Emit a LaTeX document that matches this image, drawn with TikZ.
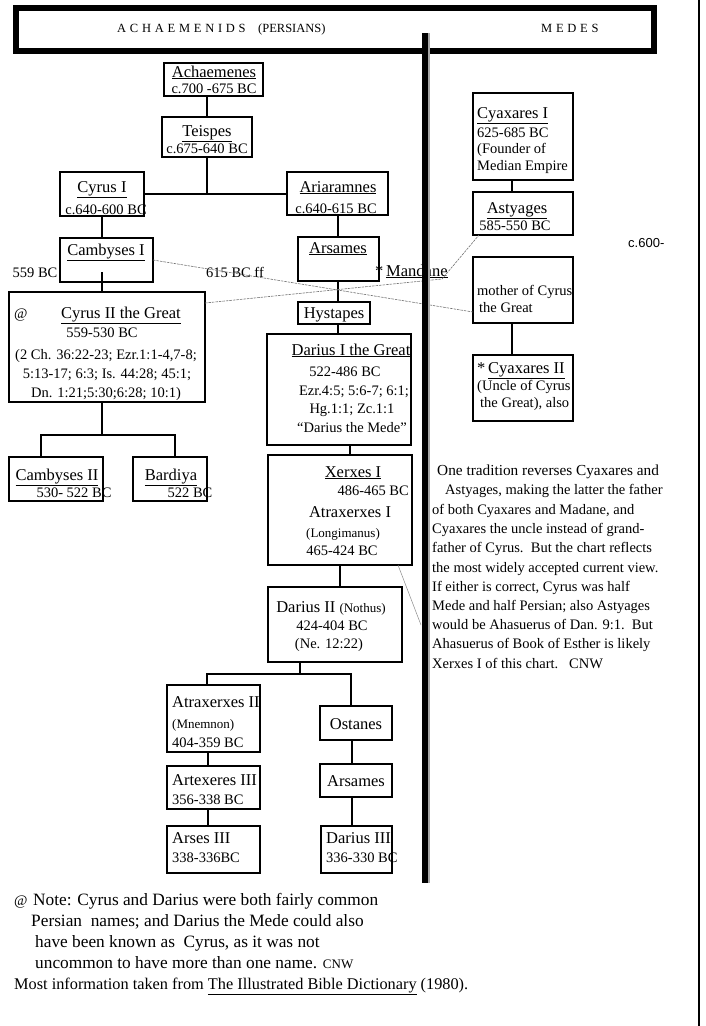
\documentclass[tikz,border=0pt]{standalone}
\usepackage{fontspec}
\setmainfont{Liberation Serif}
\newfontfamily\hdrfont[LetterSpace=30]{Liberation Serif}
\newfontfamily\sansfnt{Liberation Sans}
\newcommand{\szN}{\fontsize{16.5}{19}\selectfont}
\newcommand{\szD}{\fontsize{14.5}{17}\selectfont}
\newcommand{\szS}{\fontsize{13}{15}\selectfont}
\newcommand{\szB}{\fontsize{16.3}{19}\selectfont}
\newcommand{\szBB}{\fontsize{17.3}{20}\selectfont}
\newcommand{\BX}[5]{\node[bx, minimum width={#4-#2}, minimum height={#5-#3}] (#1) at ({(#2+#4)/2},{(#3+#5)/2}) {};}
\tikzset{
  bx/.style={draw, line width=1.3pt, inner sep=0pt, outer sep=0pt},
  tN/.style={inner sep=0pt, anchor=base, font=\szN},
  tD/.style={inner sep=0pt, anchor=base, font=\szD},
  tS/.style={inner sep=0pt, anchor=base, font=\szS},
  lN/.style={inner sep=0pt, anchor=base west, font=\szN},
  lD/.style={inner sep=0pt, anchor=base west, font=\szD},
  lS/.style={inner sep=0pt, anchor=base west, font=\szS},
  lB/.style={inner sep=0pt, anchor=base west, font=\szB},
  lBB/.style={inner sep=0pt, anchor=base west, font=\szBB},
  link/.style={line width=1.2pt},
  dsh/.style={black!55, line width=0.6pt, dash pattern=on 2.5pt off 1pt},
}
\begin{document}
\begin{tikzpicture}[x=1pt,y=-1pt]
\useasboundingbox (0,0) rectangle (706,1026);
\fill[white] (0,0) rectangle (706,1026);

% header
\node[draw, line width=6pt, minimum width=638, minimum height=43, inner sep=0pt] (hdr) at (335,29.5) {};
\node[anchor=base west, inner sep=0pt, font={\hdrfont\fontsize{12.5}{14}\selectfont}] (hA) at (117,32) {ACHAEMENIDS};
\node[anchor=base west, inner sep=0pt, font={\fontsize{12.5}{14}\selectfont}] (hP) at (258,32) {(PERSIANS)};
\node[anchor=base west, inner sep=0pt, font={\hdrfont\fontsize{12.5}{14}\selectfont}] (hM) at (541,32) {MEDES};

% right page border
\coordinate (pgT) at (699,0);
\coordinate (pgB) at (699,1026);
\draw[line width=2pt] (pgT) -- (pgB);

% ---------- boxes ----------
\BX{ach}{164}{63}{263}{96}
\BX{teis}{162}{117}{252}{157}
\BX{cyr1}{60}{172}{144}{216}
\BX{aria}{287}{172}{388}{215}
\BX{camb1}{60}{238}{153}{282}
\BX{ars1}{298}{237}{379}{281}
\BX{hyst}{298}{302}{370}{324}
\BX{dar1}{267}{334}{411}{445}
\BX{cyr2}{9}{292}{205}{402}
\BX{camb2}{9}{457}{103}{501}
\BX{bard}{133}{457}{207}{501}
\BX{xerx}{268}{455}{412}{565}
\BX{dar2}{268}{587}{402}{662}
\BX{atx2}{167}{685}{260}{752}
\BX{atx3}{167}{766}{260}{809}
\BX{arses}{167}{826}{260}{873}
\BX{ost}{320}{706}{392}{740}
\BX{ars2}{320}{764}{392}{797}
\BX{dar3}{321}{826}{392}{873}
\BX{cyax1}{473}{93}{573}{180}
\BX{astyg}{473}{192}{573}{235}
\BX{mother}{473}{257}{573}{323}
\BX{cyax2}{473}{355}{573}{421}

% ---------- texts ----------
\node[tN] (ach1) at (214,77) {\underline{Achaemenes}};
\node[tD] (ach2) at (214,93) {c.700 -675 BC};
\node[tN] (teis1) at (207,136) {\underline{Teispes}};
\node[tD] (teis2) at (207,153) {c.675-640 BC};
\node[tN] (cyr1a) at (102,192) {\underline{Cyrus I}};
\node[tD] (cyr1b) at (106,214) {c.640-600 BC};
\node[tN] (aria1) at (338,192) {\underline{Ariaramnes}};
\node[tD] (aria2) at (336,213) {c.640-615 BC};
\node[tN] (camb1a) at (106,255) {\underline{Cambyses I}};
\node[tN] (ars1a) at (338,253) {\underline{Arsames}};
\node[tD] (y559) at (35,277) {559 BC};
\node[tD] (y615) at (235,277) {615 BC ff};
\node[lN] (mand) at (375,276) {*\,\underline{Mandane}};
\coordinate (mandE) at (442,279);
\node[tN] (hyst1) at (334,318) {\underline{Hystapes}};

\node[lD] (at1) at (14,318) {@};
\node[tN] (cyr2a) at (121,318) {\underline{Cyrus II the Great}};
\node[tD] (cyr2b) at (102,337) {559-530 BC};
\node[tD] (cyr2c) at (106,359) {(2 Ch. 36:22-23; Ezr.1:1-4,7-8;};
\node[tD] (cyr2d) at (107,378) {5:13-17; 6:3; Is. 44:28; 45:1;};
\node[tD] (cyr2e) at (106,397) {Dn. 1:21;5:30;6:28; 10:1)};

\node[tN] (dar1a) at (351,355) {\underline{Darius I the Great}};
\node[tD] (dar1b) at (345,376) {522-486 BC};
\node[tD] (dar1c) at (354,395) {Ezr.4:5; 5:6-7; 6:1;};
\node[tD] (dar1d) at (352,413) {Hg.1:1; Zc.1:1};
\node[tD] (dar1e) at (352,432) {``Darius the Mede''};

\node[tN] (camb2a) at (57,480) {\underline{Cambyses II}};
\node[tD] (camb2b) at (74,497) {530- 522 BC};
\node[tN] (bard1) at (171,480) {\underline{Bardiya}};
\node[tD] (bard2) at (190,497) {522 BC};

\node[tN] (xer1) at (353,477) {\underline{Xerxes I}};
\node[inner sep=0pt, anchor=base east, font=\szD] (xer2) at (409,495) {486-465 BC};
\node[tN] (xer3) at (350,517) {Atraxerxes I};
\node[tS] (xer4) at (343,537) {(Longimanus)};
\node[tD] (xer5) at (342,555) {465-424 BC};

\node[tN] (dar2a) at (331,612) {Darius II {\szS(Nothus)}};
\node[tD] (dar2b) at (332,630) {424-404 BC};
\node[tD] (dar2c) at (329,648) {(Ne. 12:22)};

\node[lN] (atx2a) at (172,707) {Atraxerxes II};
\node[lS] (atx2b) at (172,728) {(Mnemnon)};
\node[lD] (atx2c) at (172,747) {404-359 BC};
\node[lN] (atx3a) at (172,785) {Artexeres III};
\node[lD] (atx3b) at (172,804) {356-338 BC};
\node[lN] (arsesa) at (172,843) {Arses III};
\node[lD] (arsesb) at (172,862) {338-336BC};
\node[tN] (ost1) at (356,729) {Ostanes};
\node[tN] (ars2a) at (356,786) {Arsames};
\node[lN] (dar3a) at (326,843) {Darius III};
\node[lD] (dar3b) at (326,862) {336-330 BC};

\node[lN] (cx1a) at (477,118) {\underline{Cyaxares I}};
\node[lD] (cx1b) at (477,137) {625-685 BC};
\node[lD] (cx1c) at (477,153) {(Founder of};
\node[lD] (cx1d) at (477,170) {Median Empire};
\node[tN] (asty1) at (517,213) {\underline{Astyages}};
\node[tD] (asty2) at (515,230) {585-550 BC};
\node[lD] (moth1) at (477,295) {mother of Cyrus};
\node[lD] (moth2) at (479,312) {the Great};
\node[lN] (cx2a) at (477,373) {*\,\underline{Cyaxares II}};
\node[lD] (cx2b) at (477,390) {(Uncle of Cyrus};
\node[lD] (cx2c) at (480,407) {the Great), also};
\node[inner sep=0pt, anchor=base west, font={\sansfnt\fontsize{13}{15}\selectfont}] (c600) at (628,247) {c.600-};

% right-hand note
\node[inner sep=0pt, anchor=base west, font={\fontsize{15.3}{17}\selectfont}] (n1) at (437,475) {One tradition reverses Cyaxares and};
\node[lD] (n2) at (445,494) {Astyages, making the latter the father};
\node[lD] (n3) at (432,514) {of both Cyaxares and Madane, and};
\node[lD] (n4) at (432,533) {Cyaxares the uncle instead of grand-};
\node[lD] (n5) at (432,552) {father of Cyrus.\ \ But the chart reflects};
\node[lD] (n6) at (432,572) {the most widely accepted current view.};
\node[lD] (n7) at (432,591) {If either is correct, Cyrus was half};
\node[lD] (n8) at (432,610) {Mede and half Persian; also Astyages};
\node[lD] (n9) at (432,629) {would be Ahasuerus of Dan. 9:1.\ \ But};
\node[lD] (n10) at (432,648) {Ahasuerus of Book of Esther is likely};
\node[lD] (n11) at (432,668) {Xerxes I of this chart.\ \ \ CNW};

% bottom note
\node[lD] (b0) at (14,905) {@};
\node[lBB] (b1) at (33,905) {Note: Cyrus and Darius were both fairly common};
\node[lBB] (b2) at (31,926) {Persian\ \ names; and Darius the Mede could also};
\node[lBB] (b3) at (35,947) {have been known as\ \ Cyrus, as it was not};
\node[lBB] (b4) at (35,968) {uncommon to have more than one name. {\szS CNW}};
\node[lB] (b5) at (14,989) {Most information taken from \underline{The Illustrated Bible Dictionary} (1980).};

% ---------- connectors ----------
\draw[link] (teis.north) -- (teis.north |- ach.south);
\coordinate (busA) at (207,194);
\draw[link] (teis.south) -- (busA);
\draw[link] (cyr1.east |- busA) -- (aria.west |- busA);
\draw[link] (cyr1.south -| 102,0) -- (camb1.north -| 102,0);
\coordinate (cbIn) at (102,272);
\draw[link] (cbIn) -- (cyr2.north -| cbIn);
\draw[link] (aria.south -| 338,0) -- (ars1.north -| 338,0);
\draw[link] (ars1.south -| 338,0) -- (hyst.north -| 338,0);
\draw[link] (hyst.south -| 338,0) -- (dar1.north -| 338,0);
\draw[link] (dar1.south -| 350,0) -- (xerx.north -| 350,0);
\draw[link] (xerx.south -| 340,0) -- (dar2.north -| 340,0);
% Cyrus II children
\coordinate (busB) at (102,435);
\draw[link] (cyr2.south -| busB) -- (busB);
\draw[link] (camb2.north -| 41,0) |- (busB) -| (bard.north -| 175,0);
% Darius II children
\coordinate (busC) at (300,674);
\draw[link] (dar2.south -| busC) -- (busC);
\draw[link] (atx2.north -| 207,0) |- (busC) -| (ost.north -| 351,0);
\draw[link] (atx2.south -| 208,0) -- (atx3.north -| 208,0);
\draw[link] (atx3.south -| 208,0) -- (arses.north -| 208,0);
\draw[link] (ost.south -| 352,0) -- (ars2.north -| 352,0);
\draw[link] (ars2.south -| 352,0) -- (dar3.north -| 352,0);
% Medes
\draw[link] (cyax1.south -| 512,0) -- (astyg.north -| 512,0);
\draw[link] (mother.south -| 512,0) -- (cyax2.north -| 512,0);

% dashed relations
\draw[dsh] (camb1.east |- 0,260) -- (mother.west |- 0,312);
\draw[dsh] (cyr2.east |- 0,303) -- (mandE) -- ([xshift=6pt]astyg.south west);
\coordinate (xnote) at (421,625);
\draw[black!45, line width=0.5pt] ([xshift=-14pt]xerx.south east) -- (xnote);

% vertical divider bar (drawn last, over the text)
\coordinate (barT) at (425,33);
\coordinate (barB) at (425,883);
\draw[black!35, line width=2pt] ([xshift=4pt]barT) -- ([xshift=4pt]barB);
\draw[line width=6pt] (barT) -- (barB);
\end{tikzpicture}
\end{document}
